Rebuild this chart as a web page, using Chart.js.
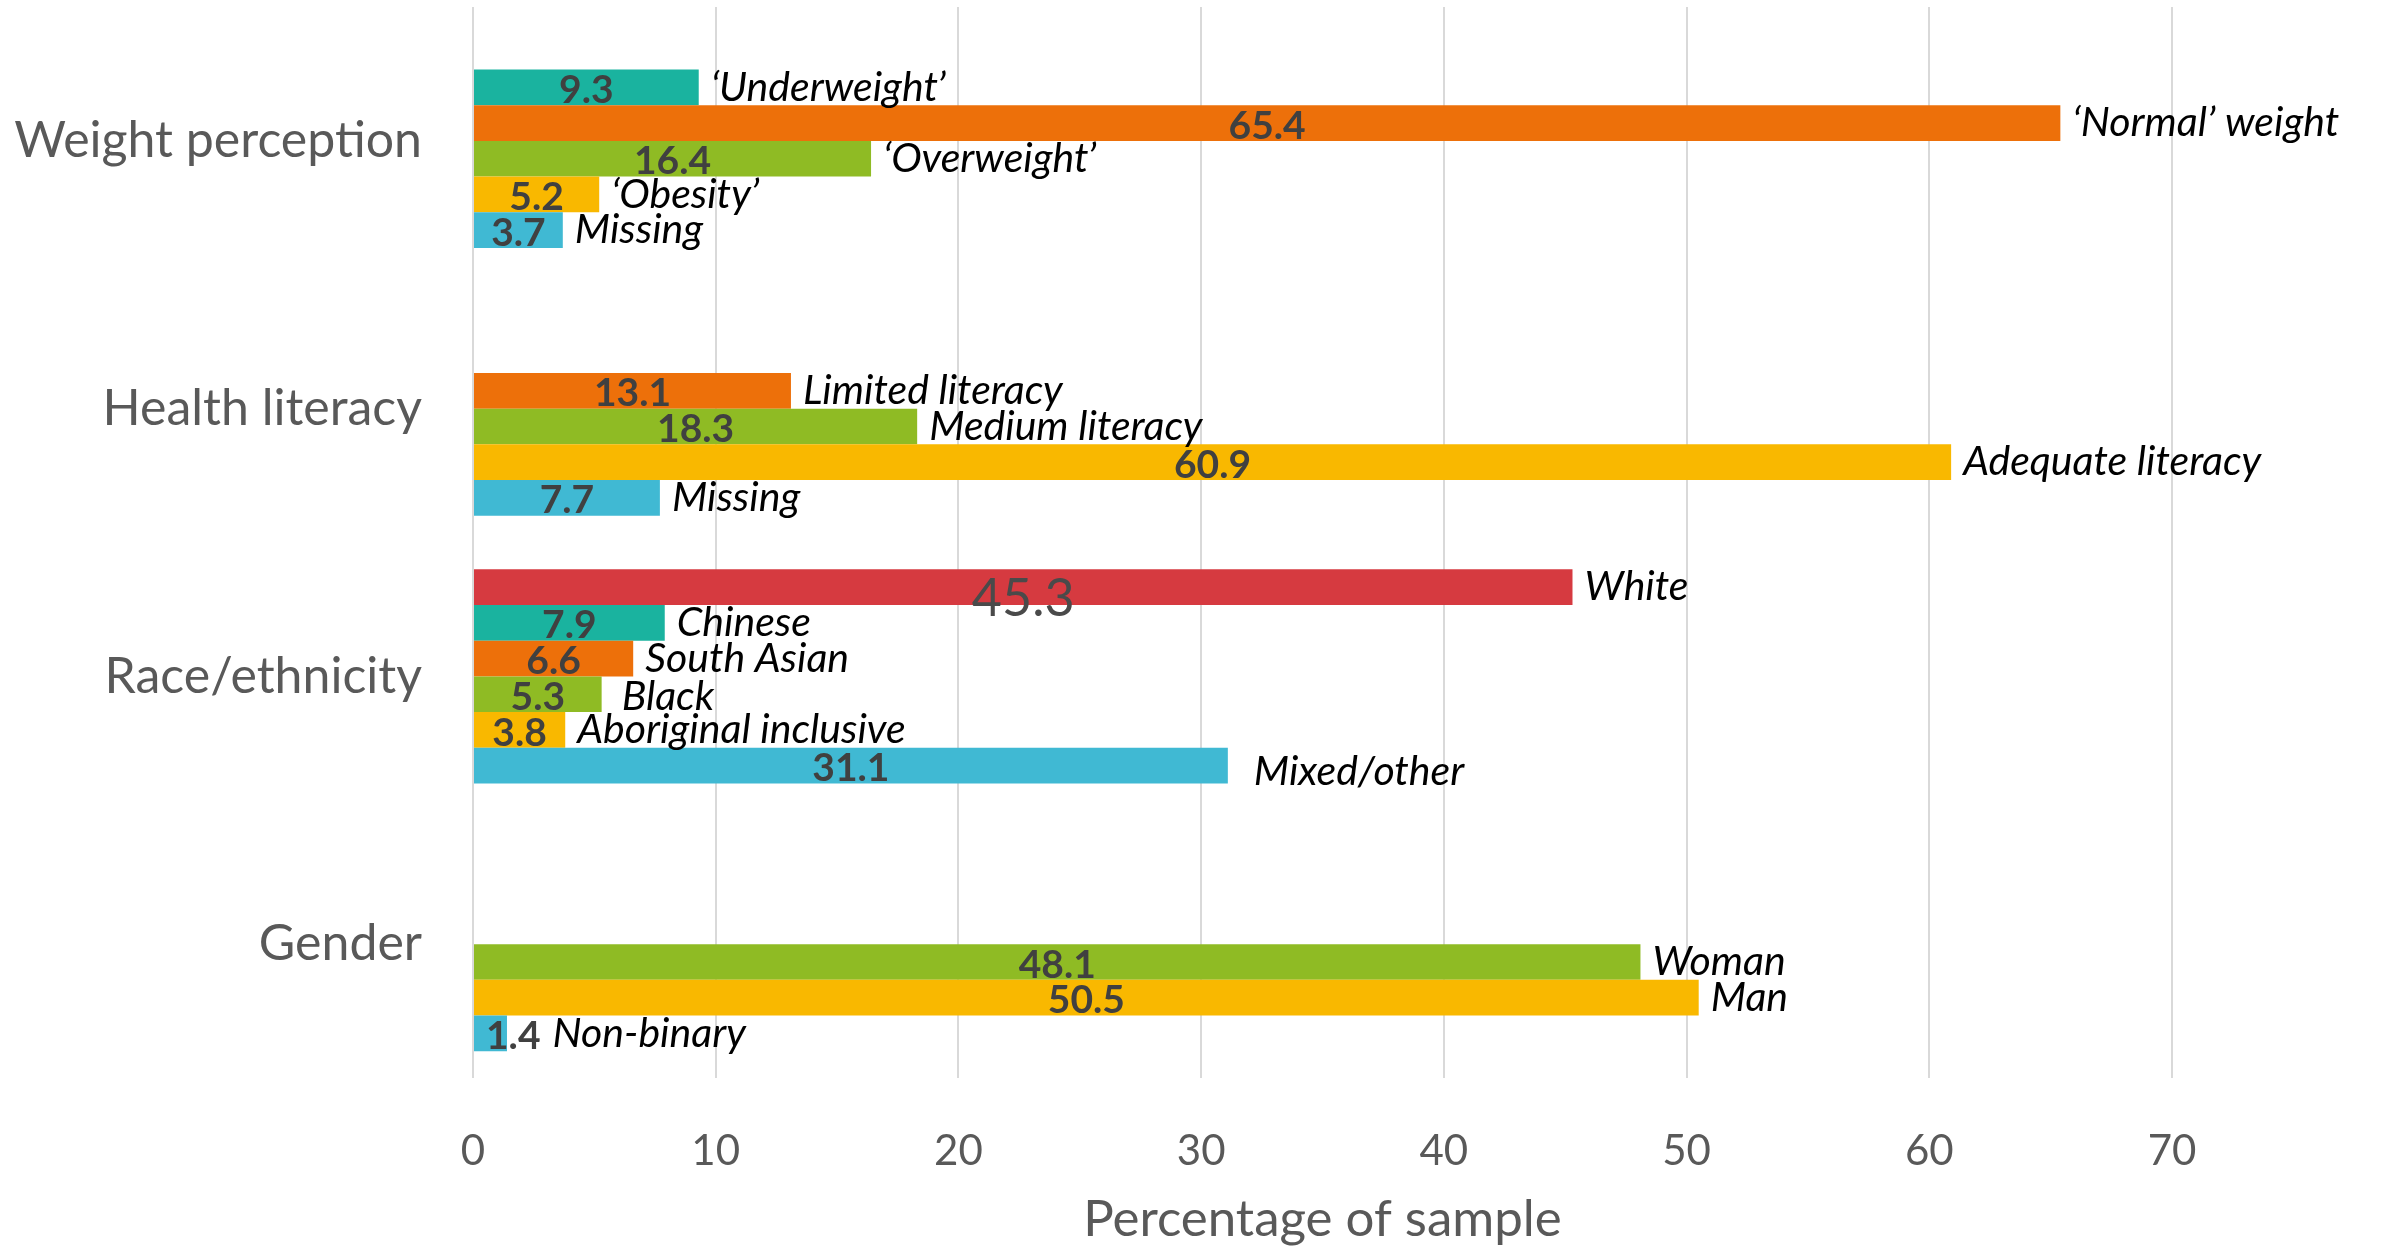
<!DOCTYPE html>
<html>
<head>
<meta charset="utf-8">
<script src="https://cdn.jsdelivr.net/npm/chart.js@4.4.1/dist/chart.umd.min.js"></script>
<style>
  html, body { margin: 0; padding: 0; background: #fff; }
  #chart { display: block; }
</style>
</head>
<body>
<canvas id="chart" width="2382" height="1250"></canvas>
<script>
// groups, top to bottom
const groups = ['Weight perception', 'Health literacy', 'Race/ethnicity', 'Gender'];

const weightLabels = ['\u2018Underweight\u2019', '\u2018Normal\u2019 weight', '\u2018Overweight\u2019', '\u2018Obesity\u2019', 'Missing'];
const weightValues = [9.3, 65.4, 16.4, 5.2, 3.7];

const literacyLabels = ['Limited literacy', 'Medium literacy', 'Adequate literacy', 'Missing'];
const literacyValues = [13.1, 18.3, 60.9, 7.7];

const raceLabels = ['White', 'Chinese', 'South Asian', 'Black', 'Aboriginal inclusive', 'Mixed/other'];
const raceValues = [45.3, 7.9, 6.6, 5.3, 3.8, 31.1];

const genderLabels = ['Woman', 'Man', 'Non-binary'];
const genderValues = [48.1, 50.5, 1.4];

const xTicks = [0, 10, 20, 30, 40, 50, 60, 70];

// palette, each group takes the last n colours
const palette = ['#D63A40', '#1AB39F', '#ED700A', '#8FBB24', '#F9B800', '#40B9D3'];

// layout: the y axis is cut in half-bar rows, bars span two rows
const ROWS = 60;
const groupRow = [7, 22, 37, 52];
const firstBarRow = [4, 21, 32, 53];

// hand placed labels in the original
const nameNudge = { 'Black': [8, 3], 'Mixed/other': [14, 6] };

const groupLabels = [weightLabels, literacyLabels, raceLabels, genderLabels];
const groupValues = [weightValues, literacyValues, raceValues, genderValues];

const rowLabels = new Array(ROWS).fill('');
const rowValues = new Array(ROWS).fill(null);
const rowColors = new Array(ROWS).fill('transparent');
const rowNames = new Array(ROWS).fill('');

groups.forEach((g, gi) => {
  rowLabels[groupRow[gi]] = g;
  const vals = groupValues[gi];
  vals.forEach((v, i) => {
    const r = firstBarRow[gi] + 2 * i;
    rowValues[r] = v;
    rowNames[r] = groupLabels[gi][i];
    rowColors[r] = palette[palette.length - vals.length + i];
  });
});

const FONT = 'Lato, "Open Sans", sans-serif';

const barLabels = {
  id: 'barLabels',
  afterDatasetsDraw(chart) {
    const ctx = chart.ctx;
    const meta = chart.getDatasetMeta(0);
    ctx.save();
    meta.data.forEach((bar, i) => {
      const v = rowValues[i];
      if (v === null) return;
      const left = bar.base, right = bar.x, y = bar.y;
      const txt = v.toFixed(1);

      // value
      let valueEnd;
      ctx.fillStyle = '#404040';
      ctx.textBaseline = 'middle';
      if (rowNames[i] === 'White') {
        ctx.font = 'normal 52px ' + FONT;
        ctx.fillStyle = '#4a4a4a';
        ctx.textAlign = 'center';
        ctx.fillText(txt, (left + right) / 2, y + 12);
        valueEnd = right;
      } else {
        ctx.font = 'bold 39px ' + FONT;
        const w = ctx.measureText(txt).width;
        if (w > right - left - 6) {
          ctx.textAlign = 'left';
          ctx.fillText(txt, left + 12, y + 3);
          valueEnd = left + 12 + w;
        } else {
          ctx.textAlign = 'center';
          ctx.fillText(txt, (left + right) / 2, y + 3);
          valueEnd = right;
        }
      }

      // category name
      const nudge = nameNudge[rowNames[i]] || [0, 0];
      ctx.font = 'italic 41px ' + FONT;
      ctx.fillStyle = '#000';
      ctx.textAlign = 'left';
      ctx.fillText(rowNames[i], valueEnd + 12 + nudge[0], y + nudge[1]);
    });
    ctx.restore();
  }
};

new Chart(document.getElementById('chart'), {
  type: 'bar',
  data: {
    labels: rowLabels,
    datasets: [{
      data: rowValues,
      backgroundColor: rowColors,
      borderWidth: 0,
      barPercentage: 2,
      categoryPercentage: 1
    }]
  },
  options: {
    indexAxis: 'y',
    responsive: false,
    animation: false,
    devicePixelRatio: 1,
    layout: { padding: { top: 7, right: 210, left: 0, bottom: 0 } },
    plugins: {
      legend: { display: false },
      tooltip: { enabled: false }
    },
    scales: {
      x: {
        min: 0,
        max: 70,
        afterBuildTicks(scale) { scale.ticks = xTicks.map(v => ({ value: v })); },
        afterFit(scale) { scale.height = 172; },
        grid: { color: '#D9D9D9', lineWidth: 2, drawTicks: false },
        border: { display: false },
        ticks: {
          color: '#595959',
          font: { family: FONT, size: 42 },
          padding: 48
        },
        title: {
          display: true,
          text: 'Percentage of sample',
          color: '#595959',
          font: { family: FONT, size: 51 },
          padding: { top: 4, bottom: 0 }
        }
      },
      y: {
        afterFit(scale) {
          scale.width = 473;
          scale.paddingTop = 0;
          scale.paddingBottom = 0;
        },
        grid: { display: false, drawTicks: false },
        border: { display: false },
        ticks: {
          autoSkip: false,
          color: '#595959',
          font: { family: FONT, size: 50 },
          padding: 51
        }
      }
    }
  },
  plugins: [barLabels]
});
</script>
</body>
</html>
